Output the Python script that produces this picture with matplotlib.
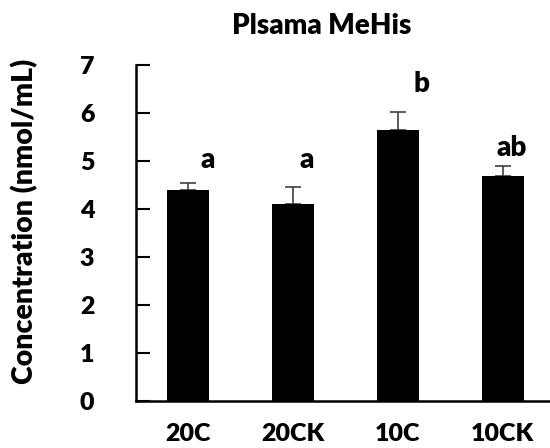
import matplotlib
matplotlib.use("Agg")
import matplotlib.pyplot as plt

categories = ["20C", "20CK", "10C", "10CK"]
values = [4.40, 4.10, 5.65, 4.69]
errors = [0.15, 0.36, 0.37, 0.21]
letters = ["a", "a", "b", "ab"]
letter_x = [0.18, 1.13, 2.23, 3.09]
letter_y = [4.85, 4.85, 6.44, 5.10]
yticks = [0, 1, 2, 3, 4, 5, 6, 7]

plt.rcParams['font.family'] = ['Lato', 'DejaVu Sans']
W = 'heavy'

fig = plt.figure(figsize=(5.5, 4.48), dpi=100)
ax = fig.add_axes([136/550, 47/448, 419/550, 336/448])

x = list(range(len(categories)))
ax.bar(x, values, width=0.4, color='black', zorder=2)
ax.errorbar(x, values, yerr=[[0]*len(errors), errors], fmt='none',
            ecolor='#404040', elinewidth=1.2, capsize=6, capthick=1.2, zorder=1)

for lx, ly, t in zip(letter_x, letter_y, letters):
    ax.text(lx, ly, t, ha='center', va='baseline', fontsize=20, fontweight=W)

ax.set_xlim(-0.5, 3.5)
ax.set_ylim(0, 7)
ax.set_yticks(yticks)
ax.set_xticks(x)
ax.set_xticklabels(categories)
ax.tick_params(axis='y', direction='in', length=10, width=1.5, labelsize=18, pad=30)
ax.tick_params(axis='x', length=0, labelsize=18, pad=16)
for lab in ax.get_xticklabels() + ax.get_yticklabels():
    lab.set_fontweight(W)
for s in ['top', 'right']:
    ax.spines[s].set_visible(False)
for s in ['left', 'bottom']:
    ax.spines[s].set_linewidth(1.8)

fig.text(25/550, 1 - 221/448, "Concentration (nmol/mL)", rotation=90,
         ha='center', va='center', fontsize=20.5, fontweight=W)
fig.text(322/550, 1 - 26/448, "Plsama MeHis", ha='center', va='center',
         fontsize=20, fontweight=W)

fig.savefig("out.png", dpi=100)
